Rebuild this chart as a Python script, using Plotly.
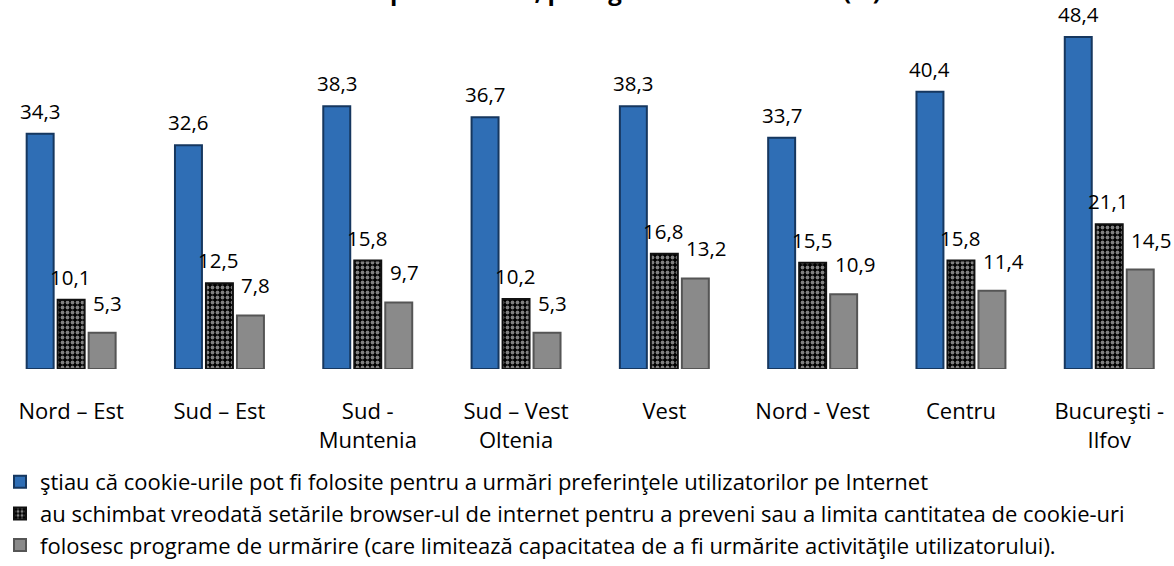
import plotly.graph_objects as go

categories = ["Nord – Est", "Sud – Est", "Sud -<br>Muntenia", "Sud – Vest<br>Oltenia",
              "Vest", "Nord - Vest", "Centru", "Bucureşti -<br>Ilfov"]
series_names = [
    "ştiau că cookie-urile pot fi folosite pentru a urmări preferinţele utilizatorilor pe Internet",
    "au schimbat vreodată setările browser-ul de internet pentru a preveni sau a limita cantitatea de cookie-uri",
    "folosesc programe de urmărire (care limitează capacitatea de a fi urmărite activităţile utilizatorului).",
]
stiau = [34.3, 32.6, 38.3, 36.7, 38.3, 33.7, 40.4, 48.4]
schimbat = [10.1, 12.5, 15.8, 10.2, 16.8, 15.5, 15.8, 21.1]
urmarire = [5.3, 7.8, 9.7, 5.3, 13.2, 10.9, 11.4, 14.5]
title_text = "Ponderea persoanelor, pe regiuni de dezvoltare (%)"

FONT = "Open Sans"
W, H = 1174, 566
M_T, M_B = 20, 197
plot_h = H - M_T - M_B

fig = go.Figure()
fig.add_trace(go.Bar(
    x=categories, y=stiau, name=series_names[0], legendgroup="a",
    marker=dict(color="#2F6EB5", line=dict(color="#16375F", width=2)),
))
fig.add_trace(go.Bar(
    x=categories, y=schimbat, name=series_names[1], legendgroup="b",
    marker=dict(color="black", line=dict(color="#111111", width=2),
                pattern=dict(shape=".", fgcolor="white", bgcolor="black",
                             size=5, solidity=0.45)),
))
fig.add_trace(go.Bar(
    x=categories, y=urmarire, name=series_names[2], legendgroup="c",
    marker=dict(color="#8A8A8A", line=dict(color="#555555", width=2)),
))

def fmt(v):
    return f"{v:.1f}".replace(".", ",")

# (xshift, yshift, xanchor) per series
label_style = [(-31, 7, "center"), (-1, 7, "center"), (20, 14, "left")]
for vals, (xs, ys, xa) in zip([stiau, schimbat, urmarire], label_style):
    for c, v in zip(categories, vals):
        fig.add_annotation(x=c, y=v, text=fmt(v), showarrow=False,
                           xshift=xs, yshift=ys, yanchor="bottom", xanchor=xa,
                           font=dict(family=FONT, size=20.5, color="black"))

# title (cut by the top edge, as in the reference)
fig.add_annotation(x=0.49, xref="paper", y=1 + 11 / plot_h, yref="paper",
                   text=f"<b>{title_text}</b>", showarrow=False,
                   xanchor="center", yanchor="bottom",
                   font=dict(family=FONT, size=24, color="black"))

cat_w = 148.3
x0 = -0.5 + 3 / cat_w
fig.update_layout(
    width=W, height=H,
    margin=dict(l=0, r=0, t=M_T, b=M_B, pad=0),
    paper_bgcolor="white", plot_bgcolor="white",
    barmode="group", bargap=0.373, bargroupgap=0.13,
    font=dict(family=FONT, color="black"),
    showlegend=True,
    legend=dict(orientation="v", x=0.0, xanchor="left", y=-0.265, yanchor="top",
                font=dict(family=FONT, size=22, color="black"),
                tracegroupgap=0, itemclick=False, bgcolor="rgba(0,0,0,0)"),
    xaxis=dict(range=[x0, x0 + W / cat_w], showgrid=False, zeroline=False,
               showline=False, ticks="", tickfont=dict(family=FONT, size=22, color="black"),
               ticklabelstandoff=27, fixedrange=True),
    yaxis=dict(range=[0, plot_h / 6.86], visible=False, showgrid=False, fixedrange=True),
)

fig.write_html("out.html", config={"displayModeBar": False},
               post_script="document.body.style.margin='0';")
